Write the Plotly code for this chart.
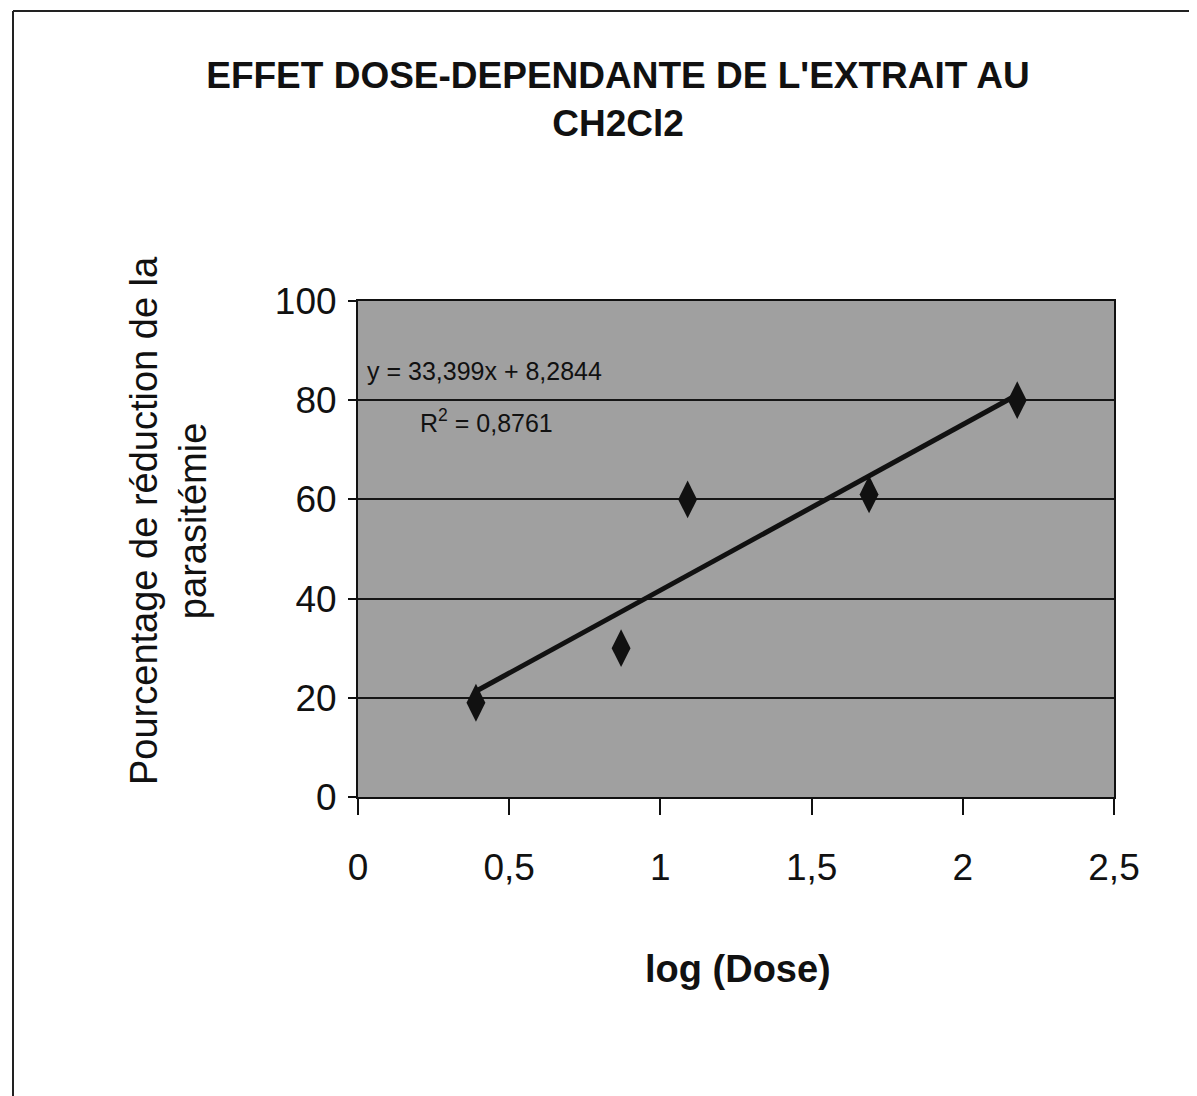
import plotly.graph_objects as go

# ---- data ----
log_dose = [0.39, 0.87, 1.09, 1.69, 2.18]
reduction_pct = [19, 30, 60, 61, 80]
slope = 33.399
intercept = 8.2844
r_squared = 0.8761
x_ticks = [0, 0.5, 1, 1.5, 2, 2.5]
y_ticks = [0, 20, 40, 60, 80, 100]

title_text = "EFFET DOSE-DEPENDANTE DE L'EXTRAIT AU<br>CH2Cl2"
x_title = "log (Dose)"
y_title = "Pourcentage de réduction de la<br>parasitémie"

W, H = 1197, 1096
OFF = 7  # page offset of the rendered figure
L, T = 357 - OFF, 300 - OFF
PW, PH = 756, 496
R, B = W - L - PW, H - T - PH


def px(x):
    return (x - OFF - L) / PW


def py(y):
    return (T + PH - (y - OFF)) / PH


fit_x = [min(log_dose), max(log_dose)]
fit_y = [slope * v + intercept for v in fit_x]

FONT = "Liberation Sans, Arial, sans-serif"

fig = go.Figure()
fig.add_trace(go.Scatter(x=fit_x, y=fit_y, mode="lines",
                         line=dict(color="#111111", width=5), hoverinfo="skip",
                         showlegend=False))
fig.add_trace(go.Scatter(x=log_dose, y=reduction_pct, mode="markers",
                         marker=dict(symbol="diamond-tall", size=27, color="#111111"),
                         showlegend=False))

eq_text = f"y = {slope:.3f}x + {intercept:.4f}".replace(".", ",")
r2_text = f"R<sup>2</sup> = {r_squared:.4f}".replace(".", ",")

fig.update_layout(
    width=W, height=H,
    margin=dict(l=L, r=R, t=T, b=B, pad=0),
    paper_bgcolor="white",
    plot_bgcolor="#a0a0a0",
    separators=", ",
    title=dict(text=title_text, x=(617 - OFF) / W, xanchor="center", y=1 - 80 / H, yanchor="middle",
               font=dict(family=FONT, size=37, color="#111111", weight="bold")),
    xaxis=dict(range=[0, 2.5], tickvals=x_ticks, ticks="outside", ticklen=16, tickwidth=2,
               tickcolor="#111111", showline=True, linecolor="#111111", linewidth=2, mirror=True,
               showgrid=False, zeroline=False, tickformat=".1~f",
               tickfont=dict(family=FONT, size=37, color="#111111"), ticklabelstandoff=21),
    yaxis=dict(range=[0, 100], tickvals=y_ticks, ticks="outside", ticklen=8, tickwidth=2,
               tickcolor="#111111", showline=True, linecolor="#111111", linewidth=2, mirror=True,
               showgrid=True, gridcolor="#161616", gridwidth=2, zeroline=False,
               tickfont=dict(family=FONT, size=37, color="#111111"), ticklabelstandoff=4),
    annotations=[
        dict(text=eq_text, xref="paper", yref="paper", x=px(364), y=py(370),
             xanchor="left", yanchor="middle", showarrow=False,
             font=dict(family=FONT, size=25, color="#111111")),
        dict(text=r2_text, xref="paper", yref="paper", x=px(417), y=py(420),
             xanchor="left", yanchor="middle", showarrow=False,
             font=dict(family=FONT, size=25, color="#111111")),
        dict(text=x_title, xref="paper", yref="paper", x=px(737), y=py(968),
             xanchor="center", yanchor="middle", showarrow=False,
             font=dict(family=FONT, size=38, color="#111111", weight="bold")),
        dict(text=y_title, xref="paper", yref="paper", x=px(167), y=py(520),
             xanchor="center", yanchor="middle", showarrow=False, textangle=-90,
             font=dict(family=FONT, size=38, color="#111111")),
    ],
    shapes=[
        dict(type="line", xref="paper", yref="paper", x0=px(12), x1=px(1220), y0=py(10), y1=py(10),
             line=dict(color="#222222", width=2)),
        dict(type="line", xref="paper", yref="paper", x0=px(12), x1=px(12), y0=py(10), y1=py(1120),
             line=dict(color="#222222", width=2)),
    ],
)

fig.write_html("out.html")
